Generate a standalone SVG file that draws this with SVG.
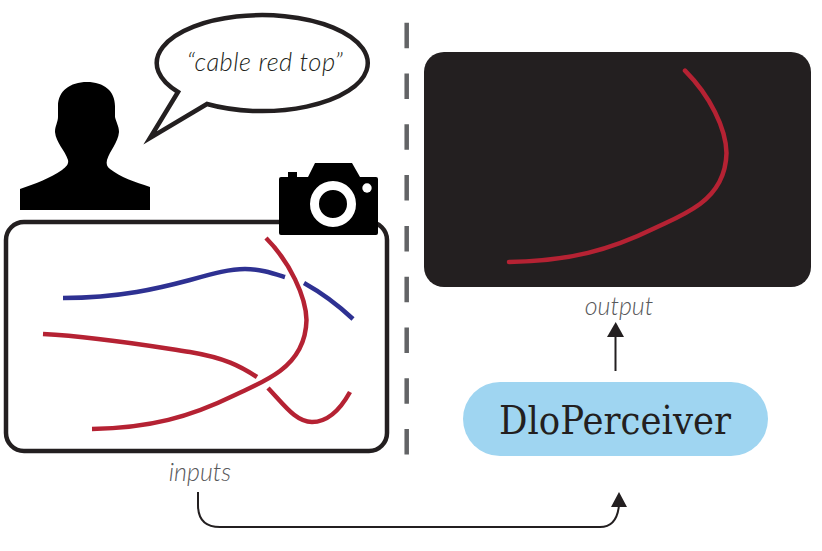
<svg xmlns="http://www.w3.org/2000/svg" width="822" height="551" viewBox="0 0 822 551">
<style>
.lab{font-family:"Lato","Open Sans",sans-serif;font-style:italic;font-weight:300;fill:#58595b;font-size:25px}
.red{fill:none;stroke:#b52233;stroke-width:4.500}
.blue{fill:none;stroke:#2e3192;stroke-width:4.500}
.conn{fill:none;stroke:#231f20;stroke-width:2}
.head{fill:#231f20}
</style>
<rect width="822" height="551" fill="#fff"/>
<g id="person"><path fill="#000" d="M87 82C104 82 115 91 115 106V117C116 122 119 126 119 132C118 143 110 150 107 160C106 164 107 167 110 169C120 177 135 182 150 187V210H20V189C35 184 50 178 62 170C66 167 69 164 68 160C65 150 56 143 55 132C55 126 58 122 58 117V106C58 91 70 82 87 82Z"/></g>
<g id="bubble"><path fill="#fff" stroke="#231f20" stroke-width="4.500" stroke-miterlimit="12" d="M178 92L150 138L207 104A105.500 48 0 1 0 178 92Z"/><text x="265" y="71" text-anchor="middle" class="lab" style="fill:#231f20;font-size:25.500px;letter-spacing:.5px">“cable red top”</text></g>
<g id="scene"><rect x="6" y="222" width="381" height="229" rx="18" fill="#fff" stroke="#231f20" stroke-width="4.500"/>
<path class="red" d="M266 238C290 262 306 297 306.500 320C306 342 296 359 280 371C265 382 252 387 235 395C190 417 150 428 92 429"/>
<path class="blue" d="M63 298C120 298 160 288 190 280C215 273 230 269 245 269C260 269 272 273 285 277"/>
<path class="blue" d="M304 283C322 293 338 305 353 319"/>
<path class="red" d="M43 334C100 337 150 346 190 352C225 358 240 366 257 377"/>
<path class="red" d="M268 388C285 406 296 422 312 422C328 422 340 410 350 392"/>
</g>
<g id="camera"><path fill="#000" d="M281 177H288V172H297V177H308L315 163H352L360 177H376Q378 177 378 179V233Q378 235 376 235H281Q279 235 279 233V179Q279 177 281 177Z"/><circle cx="333" cy="204" r="18.500" fill="none" stroke="#fff" stroke-width="9"/><circle cx="367" cy="188" r="4.700" fill="#fff"/></g>
<g id="divider"><path d="M406.700 22.700V454.500" fill="none" stroke="#636466" stroke-width="4.500" stroke-dasharray="25.500 25.300"/></g>
<g id="output-panel"><rect x="424" y="52" width="387" height="235" rx="20" fill="#231f20"/><path class="red" stroke-linecap="round" d="M685 70.700C710 96 726 128 726.500 153C726 175 716 192 700 204C685 215 672 220 655 228C610 250 570 261 509 262"/></g>
<g id="perceiver"><rect x="463" y="382" width="305" height="74" rx="37" fill="#9fd5f1"/><text x="499" y="433.500" font-family="'DejaVu Serif',serif" font-size="39" fill="#231f20" textLength="232" lengthAdjust="spacingAndGlyphs">DloPerceiver</text></g>
<g id="labels"><text x="200" y="481" text-anchor="middle" class="lab">inputs</text><text x="619" y="315" text-anchor="middle" class="lab">output</text></g>
<g id="connectors"><path class="conn" d="M615.500 371V335"/><path class="head" d="M615.700 322L624 337H607Z"/><path class="conn" d="M198 492V505Q198 527 220 527H600Q617 527 619 505"/><path class="head" d="M619 492L627 507H611Z"/></g>
</svg>
